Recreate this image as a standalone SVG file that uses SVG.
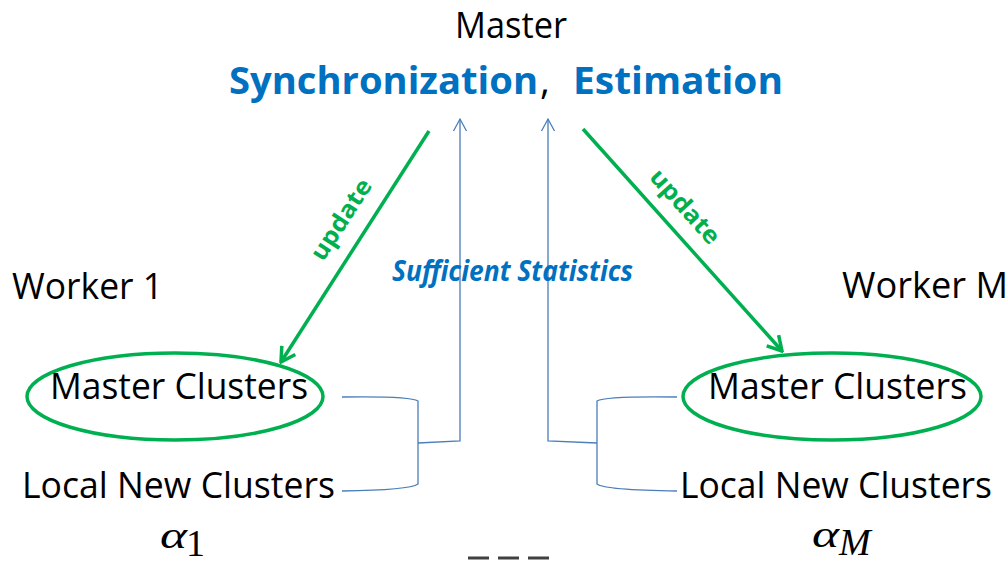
<svg xmlns="http://www.w3.org/2000/svg" width="1008" height="565" viewBox="0 0 1008 565">
<defs>
<style>
.t{font-family:"Open Sans","Liberation Sans",sans-serif;font-size:36px;fill:#000}
.b{font-family:"Open Sans","Liberation Sans",sans-serif;font-weight:bold;fill:#0070C0}
.u{font-family:"Open Sans","Liberation Sans",sans-serif;font-weight:bold;font-size:24px;fill:#00B050}
.m{font-family:"Liberation Serif","DejaVu Serif",serif;font-size:38px;fill:#000}
.g{fill:none;stroke:#00B050;stroke-width:3.5}
.c{fill:none;stroke:#4A7EBB;stroke-width:1.3}
.d{stroke:#404040;stroke-width:3}
</style>
<marker id="ga" viewBox="0 0 20 20" refX="18" refY="10" markerWidth="20" markerHeight="20" markerUnits="userSpaceOnUse" orient="auto">
<path d="M4 2 L18 10 L4 18" fill="none" stroke="#00B050" stroke-width="3.5"/>
</marker>
<marker id="ba" viewBox="0 0 16 16" refX="14" refY="8" markerWidth="16" markerHeight="16" markerUnits="userSpaceOnUse" orient="auto">
<path d="M2 1.5 L14 8 L2 14.5" fill="none" stroke="#4A7EBB" stroke-width="1.3"/>
</marker>
</defs>
<rect width="1008" height="565" fill="#fff"/>
<g id="master">
<text class="t" x="455" y="38" font-size="37" textLength="112" lengthAdjust="spacingAndGlyphs">Master</text>
<text class="b" font-size="38" y="94"><tspan x="229" textLength="309" lengthAdjust="spacingAndGlyphs">Synchronization</tspan><tspan x="540" fill="#000" font-weight="normal">,</tspan><tspan x="573" textLength="210" lengthAdjust="spacingAndGlyphs">Estimation</tspan></text>
</g>
<g id="worker1">
<text class="t" x="12" y="299" textLength="151" lengthAdjust="spacingAndGlyphs">Worker 1</text>
<ellipse class="g" cx="175" cy="396.5" rx="148" ry="43.5"/>
<text class="t" x="50" y="399" textLength="258" lengthAdjust="spacingAndGlyphs">Master Clusters</text>
<text class="t" x="22" y="498" textLength="313" lengthAdjust="spacingAndGlyphs">Local New Clusters</text>
<text class="m" x="160" y="548" font-style="italic" textLength="27" lengthAdjust="spacingAndGlyphs">α</text>
<text class="m" x="186" y="556" font-size="22">1</text>
</g>
<g id="workerM">
<text class="t" x="842" y="298" textLength="166" lengthAdjust="spacingAndGlyphs">Worker M</text>
<ellipse class="g" cx="832" cy="396.5" rx="149" ry="43.5"/>
<text class="t" x="708" y="399" textLength="259" lengthAdjust="spacingAndGlyphs">Master Clusters</text>
<text class="t" x="680" y="498" textLength="312" lengthAdjust="spacingAndGlyphs">Local New Clusters</text>
<text class="m" x="812" y="547" font-style="italic" textLength="27" lengthAdjust="spacingAndGlyphs">α</text>
<text class="m" x="839" y="555" font-size="22" font-style="italic">M</text>
</g>
<g id="ellipsis">
<line class="d" x1="468" y1="558" x2="489" y2="558"/>
<line class="d" x1="498" y1="558" x2="519" y2="558"/>
<line class="d" x1="528" y1="558" x2="549" y2="558"/>
</g>
<g id="connectors">
<line class="g" x1="429" y1="131" x2="281" y2="362" marker-end="url(#ga)"/>
<line class="g" x1="583" y1="129" x2="782" y2="351" marker-end="url(#ga)"/>
<text class="u" transform="translate(348,224) rotate(-57)" text-anchor="middle" textLength="92" lengthAdjust="spacingAndGlyphs">update</text>
<text class="u" transform="translate(679,212) rotate(48)" text-anchor="middle" textLength="92" lengthAdjust="spacingAndGlyphs">update</text>
<path class="c" d="M342 397 Q410 396 418 401 L418 484 Q410 490 342 491"/>
<path class="c" d="M418 443 L460 441 L460 119" marker-end="url(#ba)"/>
<path class="c" d="M677 397 Q605 396 597 401 L597 484 Q605 490 677 491"/>
<path class="c" d="M597 443 L548 441 L548 119" marker-end="url(#ba)"/>
<text class="b" font-size="28" font-style="italic" x="392" y="281" textLength="241" lengthAdjust="spacingAndGlyphs">Sufficient Statistics</text>
</g>
</svg>
